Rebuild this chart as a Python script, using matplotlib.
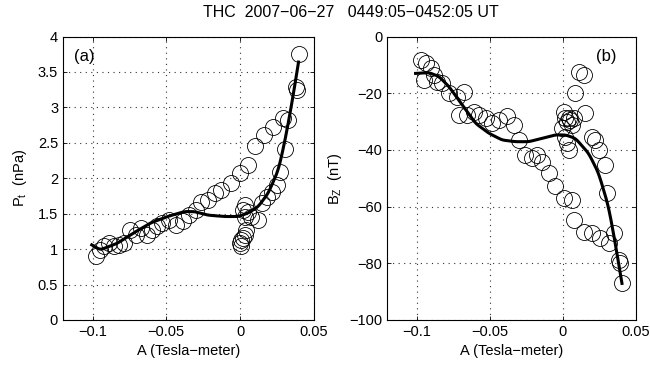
import numpy as np
import matplotlib
matplotlib.use("Agg")
import matplotlib.pyplot as plt

plt.rcParams['font.family'] = ['Liberation Sans', 'DejaVu Sans']
plt.rcParams['mathtext.fontset'] = 'custom'
plt.rcParams['mathtext.rm'] = 'Liberation Sans'
plt.rcParams['mathtext.it'] = 'Liberation Sans'

# panel (a): total pressure Pt vs A
a_x = [-0.0977, -0.0952, -0.0925, -0.089, -0.0857, -0.0822, -0.0784, -0.0743, -0.0702,
       -0.0674, -0.0629, -0.0595, -0.056, -0.0526, -0.048, -0.0435, -0.039, -0.0344,
       -0.0298, -0.0264, -0.0219, -0.0173, -0.0128, -0.0059, -0.0002, 0.0055, 0.010,
       0.0162, 0.0226, 0.0294, 0.0328, 0.0378, 0.0385, 0.0396,
       0.0305, 0.0271, 0.0248, 0.0214, 0.018, 0.0146, 0.0123, 0.0077, 0.0055, 0.0032,
       0.002, 0.0032, 0.0043, 0.0032, 0.0009, -0.0002, 0.0009, 0.002]
a_y = [0.90, 0.99, 1.05, 1.08, 1.04, 1.06, 1.08, 1.27, 1.20,
       1.30, 1.20, 1.27, 1.32, 1.37, 1.41, 1.34, 1.39, 1.48,
       1.55, 1.67, 1.69, 1.79, 1.84, 1.93, 2.07, 2.19, 2.45,
       2.61, 2.73, 2.85, 2.82, 3.29, 3.25, 3.75,
       2.42, 2.09, 1.91, 1.81, 1.74, 1.65, 1.41, 1.46, 1.53, 1.62,
       1.55, 1.46, 1.27, 1.20, 1.13, 1.08, 1.04, 1.15]
a_fit_x = [-0.1005, -0.0948, -0.0834, -0.072, -0.0606, -0.0492, -0.0378, -0.031, -0.0219,
           -0.0105, -0.0014, 0.0055, 0.0123, 0.0191, 0.026, 0.0305, 0.0351, 0.0396]
a_fit_y = [1.06, 0.99, 1.08, 1.23, 1.37, 1.46, 1.53, 1.53, 1.48,
           1.46, 1.46, 1.51, 1.60, 1.79, 2.12, 2.54, 3.06, 3.64]

# panel (b): Bz vs A
b_x = [-0.0973, -0.0938, -0.095, -0.0904, -0.0882, -0.0859, -0.0825, -0.0779, -0.0722,
       -0.0677, -0.0711, -0.0654, -0.0608, -0.0574, -0.0528, -0.0483, -0.0437, -0.038,
       -0.0335, -0.030, -0.0255, -0.021, -0.0175, -0.0141, -0.0096, -0.005, 0.0007,
       0.0064, 0.0075, 0.0144, 0.020, 0.0257, 0.0314, 0.0349, 0.0383, 0.0394, 0.0406,
       0.0007, 0.0018, 0.0041, -0.0005, 0.0018, 0.003, 0.0041, 0.0052, 0.0075, 0.0064,
       0.003, 0.011, 0.0144, 0.0087, 0.0155, 0.020, 0.0223, 0.0246, 0.0292, 0.0303]
b_y = [-8.2, -9.4, -15.3, -11.2, -13.5, -15.9, -16.5, -20.0, -21.2,
       -19.4, -27.6, -27.6, -26.5, -27.6, -28.8, -30.6, -29.4, -28.2,
       -31.2, -36.5, -41.8, -42.9, -41.8, -44.1, -48.2, -52.9, -57.1,
       -57.6, -64.7, -68.8, -69.4, -71.2, -72.9, -69.4, -78.8, -80.0, -87.1,
       -26.5, -28.8, -28.8, -32.4, -35.3, -37.6, -40.0, -29.4, -28.8, -31.2,
       -30.0, -12.4, -13.5, -20.0, -27.0, -35.3, -36.5, -40.0, -45.3, -55.3]
b_fit_x = [-0.1007, -0.0916, -0.0847, -0.0779, -0.0688, -0.0597, -0.0506, -0.0415, -0.0323,
           -0.0232, -0.0141, -0.005, 0.0018, 0.0087, 0.0178, 0.0246, 0.0314, 0.036, 0.0406]
b_fit_y = [-13.0, -12.7, -14.1, -17.6, -24.1, -30.6, -34.1, -36.5, -37.1,
           -37.1, -35.9, -34.7, -34.7, -35.9, -41.2, -48.2, -60.0, -72.9, -87.1]

x_ticks = [-0.1, -0.05, 0, 0.05]
x_ticklabels = ['\u22120.1', '\u22120.05', '0', '0.05']


def smooth(xs, ys):
    # resample the traced fit curve and run a short moving average over it
    xs = np.asarray(xs)
    ys = np.asarray(ys)
    xx = np.linspace(xs[0], xs[-1], 300)
    yy = np.interp(xx, xs, ys)
    k = np.ones(9) / 9
    pad = np.concatenate([np.full(4, yy[0]), yy, np.full(4, yy[-1])])
    yy2 = np.convolve(pad, k, mode='valid')
    yy2[:5] = yy[:5]
    yy2[-5:] = yy[-5:]
    return xx, yy2


fig = plt.figure(figsize=(6.5, 3.71), dpi=100)
ax1 = fig.add_axes([0.0969, 0.1375, 0.386, 0.764])
ax2 = fig.add_axes([0.596, 0.1375, 0.382, 0.764])

for ax, xs, ys, fx, fy in [(ax1, a_x, a_y, a_fit_x, a_fit_y), (ax2, b_x, b_y, b_fit_x, b_fit_y)]:
    ax.plot(xs, ys, 'o', ms=11.5, mfc='none', mec='black', mew=0.6, zorder=2)
    sx, sy = smooth(fx, fy)
    ax.plot(sx, sy, '-', color='black', lw=2.2, zorder=3)
    ax.set_xlim(-0.12, 0.05)
    ax.set_xticks(x_ticks)
    ax.set_xticklabels(x_ticklabels)
    ax.grid(True, linestyle=(0, (1, 4)), color='#333333', linewidth=0.8)
    ax.tick_params(direction='in', top=True, right=True, labelsize=10.5, length=3, width=0.6)
    ax.set_xlabel('A (Tesla\u2212meter)', fontsize=10.5)
    for s in ax.spines.values():
        s.set_linewidth(0.8)

ax1.set_ylim(0, 4)
ax1.set_yticks(np.arange(0, 4.01, 0.5))
ax1.set_yticklabels(['0', '0.5', '1', '1.5', '2', '2.5', '3', '3.5', '4'])
ax1.set_ylabel('P$_\\mathregular{t}$  (nPa)', fontsize=10.5, labelpad=6)
ax1.text(0.045, 0.915, '(a)', transform=ax1.transAxes, fontsize=12)

ax2.set_ylim(-100, 0)
ax2.set_yticks(np.arange(-100, 1, 20))
ax2.set_yticklabels(['\u2212100', '\u221280', '\u221260', '\u221240', '\u221220', '0'])
ax2.set_ylabel('B$_\\mathregular{Z}$  (nT)', fontsize=10.5)
ax2.text(0.84, 0.915, '(b)', transform=ax2.transAxes, fontsize=12)

fig.text(0.54, 0.965, 'THC  2007\u221206\u221227   0449:05\u22120452:05 UT', ha='center', va='center', fontsize=11.5)

fig.savefig('out.png', dpi=100)
